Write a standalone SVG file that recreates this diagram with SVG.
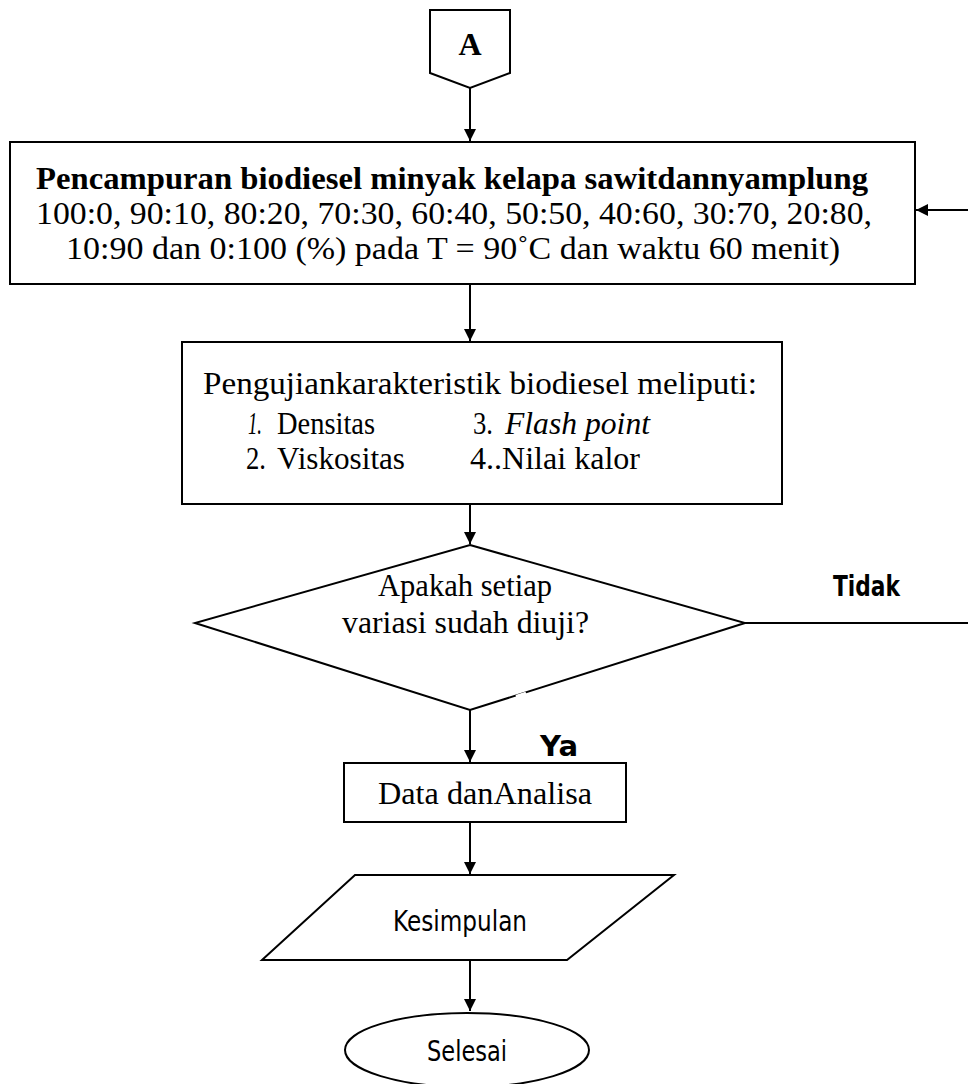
<svg xmlns="http://www.w3.org/2000/svg" width="968" height="1084" viewBox="0 0 968 1084">
<defs>
<marker id="ah" viewBox="0 0 10 10" refX="10" refY="5" markerWidth="12" markerHeight="13" markerUnits="userSpaceOnUse" orient="auto"><path d="M0,0 L10,5 L0,10 z" fill="#000"/></marker>
<style>
.sh{fill:#fff;stroke:#000;stroke-width:2}
.ln{fill:none;stroke:#000;stroke-width:2}
.tr{font-family:"Liberation Serif","Times New Roman",serif;font-size:32px;fill:#000}
.ts{font-family:"DejaVu Sans",sans-serif;font-size:28px;fill:#000}
</style>
</defs>
<rect width="968" height="1084" fill="#fff"/>
<g id="connectors">
<line class="ln" x1="470" y1="88" x2="470" y2="141" marker-end="url(#ah)"/>
<line class="ln" x1="470" y1="284" x2="470" y2="341" marker-end="url(#ah)"/>
<line class="ln" x1="470" y1="504" x2="470" y2="544" marker-end="url(#ah)"/>
<line class="ln" x1="470" y1="710" x2="470" y2="762" marker-end="url(#ah)"/>
<line class="ln" x1="470" y1="822" x2="470" y2="874" marker-end="url(#ah)"/>
<line class="ln" x1="470" y1="960" x2="470" y2="1011" marker-end="url(#ah)"/>
<line class="ln" x1="745" y1="623" x2="968" y2="623"/>
<line class="ln" x1="968" y1="210" x2="916" y2="210" marker-end="url(#ah)"/>
<text class="ts" x="833" y="596" font-weight="bold" textLength="67" lengthAdjust="spacingAndGlyphs">Tidak</text>
<text class="ts" x="540" y="756" font-weight="bold" textLength="38" lengthAdjust="spacingAndGlyphs">Ya</text>
</g>
<g id="nodeA">
<path class="sh" d="M430,10 H510 V73 L470,88 L430,73 Z"/>
<text class="tr" x="470" y="55" text-anchor="middle" font-weight="bold" font-size="30">A</text>
</g>
<g id="node1">
<rect class="sh" x="10" y="142" width="905" height="142"/>
<text class="tr" x="36" y="189" font-weight="bold" textLength="832" lengthAdjust="spacingAndGlyphs">Pencampuran biodiesel minyak kelapa sawitdannyamplung</text>
<text class="tr" x="36" y="224" textLength="836" lengthAdjust="spacingAndGlyphs">100:0, 90:10, 80:20, 70:30, 60:40, 50:50, 40:60, 30:70, 20:80,</text>
<text class="tr" x="66" y="259" textLength="774" lengthAdjust="spacingAndGlyphs">10:90 dan 0:100 (%) pada T = 90˚C dan waktu 60 menit)</text>
</g>
<g id="node2">
<rect class="sh" x="182" y="342" width="600" height="162"/>
<text class="tr" x="203" y="394" textLength="554" lengthAdjust="spacingAndGlyphs">Pengujiankarakteristik biodiesel meliputi:</text>
<text class="tr" x="248" y="434" font-style="italic" textLength="14" lengthAdjust="spacingAndGlyphs">1.</text>
<text class="tr" x="277" y="434" textLength="98" lengthAdjust="spacingAndGlyphs">Densitas</text>
<text class="tr" x="473" y="434" textLength="20" lengthAdjust="spacingAndGlyphs">3.</text>
<text class="tr" x="505" y="434" font-style="italic" textLength="145" lengthAdjust="spacingAndGlyphs">Flash point</text>
<text class="tr" x="246" y="469" textLength="20" lengthAdjust="spacingAndGlyphs">2.</text>
<text class="tr" x="277" y="469" textLength="128" lengthAdjust="spacingAndGlyphs">Viskositas</text>
<text class="tr" x="470" y="469" textLength="170" lengthAdjust="spacingAndGlyphs">4..Nilai kalor</text>
</g>
<g id="decision">
<path class="sh" d="M470,545 L745,623 L470,710 L195,623 Z"/>
<line x1="516" y1="696.5" x2="526" y2="693.3" stroke="#fff" stroke-width="3"/>
<text class="tr" x="378" y="596" textLength="174" lengthAdjust="spacingAndGlyphs">Apakah setiap</text>
<text class="tr" x="342" y="633" textLength="247" lengthAdjust="spacingAndGlyphs">variasi sudah diuji?</text>
</g>
<g id="node3">
<rect class="sh" x="344" y="763" width="282" height="59"/>
<text class="tr" x="378" y="804" textLength="214" lengthAdjust="spacingAndGlyphs">Data danAnalisa</text>
</g>
<g id="node4">
<path class="sh" d="M355,875 H674 L567,960 H262 Z"/>
<text class="ts" x="393" y="931" textLength="134" lengthAdjust="spacingAndGlyphs">Kesimpulan</text>
</g>
<g id="node5">
<ellipse class="sh" cx="467" cy="1050" rx="122" ry="37"/>
<text class="ts" x="427" y="1061" textLength="80" lengthAdjust="spacingAndGlyphs">Selesai</text>
</g>
</svg>
